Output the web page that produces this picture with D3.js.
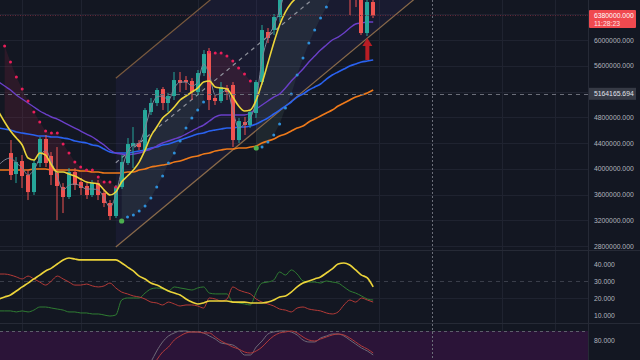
<!DOCTYPE html>
<html><head><meta charset="utf-8">
<script src="https://cdn.jsdelivr.net/npm/d3@7"></script>
<style>html,body{margin:0;padding:0;background:#131722;overflow:hidden}svg{display:block}</style>
</head><body>
<svg id="chart" width="640" height="360"></svg>
<script>
// ---------------- DATA ----------------
// candles, index 0..62
const opens = [4244,3918,4120,3903,3638,4089,4462,4198,3934,3716,3561,3949,3794,3732,3592,3778,3623,3468,3266,3716,4089,4353,4400,4291,4881,5021,5238,5021,5130,5378,5378,5363,5192,5487,5829,5099,5052,5254,5301,4446,4726,4679,4866,5347,6124,6155,6357,6776,7009,7165,7087,7320,7475,7398,7553,7475,7320,7398,7165,7087,6932,6108,6590].map(v=>v*1000);
const closes = [3903,4104,3887,3638,4089,4462,4089,3903,3732,3561,3949,3747,3701,3592,3778,3592,3468,3266,3716,4104,4384,4400,4337,4912,5021,5223,5021,5130,5378,5332,5347,5192,5487,5782,5068,5052,5270,5192,4446,4741,4679,4881,5347,6155,6031,6357,6776,7009,7165,7087,7320,7475,7398,7553,7475,7320,7398,7165,7087,7009,6108,6590,6380].map(v=>v*1000);
const highs = [4446,4182,4213,3980,4136,4493,4524,4260,4337,3778,4011,4011,3856,3778,3825,3825,3685,3514,3747,4213,4477,4648,4446,4943,5099,5254,5270,5176,5503,5503,5440,5409,5534,5844,5875,5145,5347,5301,5347,4788,4804,4912,5378,6233,6186,6404,6854,7087,7242,7242,7398,7553,7553,7631,7631,7553,7475,7475,7242,7165,7009,6668,6652].map(v=>v*1000);
const lows = [3825,3778,3701,3514,3592,4027,4027,3747,3204,3312,3530,3670,3592,3530,3561,3514,3405,3204,3235,3685,4058,4011,4291,4260,4835,4974,4912,4881,5068,5192,5223,5068,5145,5440,4912,4990,5021,5068,4337,4400,4524,4633,4788,5301,5953,6077,6279,6699,6932,6932,7009,7242,7320,7320,7398,7242,7242,7087,6388,6512,6077,6062,6341].map(v=>v*1000);

// moving averages, index -2..62
const lineStart = -2;
const maFast = [4881,4726,4586,4477,4369,4167,4136,4244,4213,4058,3949,3949,3918,3887,3840,3794,3778,3763,3670,3592,3638,3794,3887,3980,4104,4291,4508,4648,4788,4866,4959,5068,5130,5192,5254,5347,5363,5270,5254,5238,5114,4974,4897,4912,5068,5332,5642,5953,6233,6435,6574,6668,6776,6854,6932,7009,7087,7118,7165,7165,7118,7087,6963,6932,6901].map(v=>v*1000);
const maMid = [5347,5285,5223,5145,5083,5021,4959,4897,4850,4804,4772,4726,4679,4633,4586,4539,4493,4431,4369,4291,4244,4229,4213,4229,4244,4275,4306,4353,4400,4431,4462,4493,4539,4586,4633,4679,4741,4804,4835,4835,4835,4835,4835,4866,4928,4990,5052,5114,5161,5254,5363,5456,5549,5658,5751,5844,5922,6000,6046,6108,6186,6248,6264,6279,6279].map(v=>v*1000);
const maSlow = [4633,4617,4602,4571,4555,4539,4524,4508,4508,4493,4493,4477,4462,4431,4415,4400,4369,4353,4306,4260,4244,4244,4244,4260,4275,4291,4322,4337,4369,4384,4415,4446,4477,4508,4539,4555,4586,4602,4617,4633,4633,4648,4648,4664,4695,4741,4788,4850,4912,4974,5037,5114,5161,5223,5270,5316,5394,5456,5503,5549,5596,5627,5658,5673,5689].map(v=>v*1000);
const maLong = [3980,3980,3980,3980,3980,3980,3996,3996,3996,3980,3980,3980,3980,3980,3965,3965,3949,3949,3934,3934,3934,3934,3949,3949,3980,3996,4027,4042,4058,4073,4104,4120,4151,4182,4198,4229,4244,4275,4291,4306,4306,4322,4322,4337,4353,4400,4431,4462,4508,4539,4586,4633,4664,4726,4772,4819,4866,4912,4974,5021,5068,5114,5145,5176,5223].map(v=>v*1000);
const closeLine = [4058,4136,4167,4089,4011,3903,3980,4167,4291,4104,3871,3670,3747,3763,3732,3685,3685,3670,3545,3405,3592,3980,4260,4369,4400,4633,4943,5114,5130,5068,5254,5347,5347,5285,5347,5627,5456,5145,5176,5223,4912,4633,4695,4788,5068,5689,6031,6217,6466,6776,7009,7087,7118,7211,7242,7320,7367,7320,7273,7087,7050,7000,6850,6780,6720].map(v=>v*1000);

// parabolic SAR, index -1..56 ; d = above price, u = below price, f = flip point
const sarStart = -1;
const sarValues = [5906,5658,5425,5238,5052,4881,4726,4586,4555,4555,4384,4244,4104,4027,3980,3980,3871,3794,3794,3716,3188,3250,3281,3343,3421,3545,3716,3887,4089,4244,4431,4633,4788,4912,5037,5813,5798,5798,5751,5673,5565,5471,5363,4322,4337,4415,4524,4695,4943,5161,5456,5720,5953,6155,6341,6512,6699,6854].map(v=>v*1000);
const sarSides = "ddddddddddddddddddddfuuuuuuuuuuuuuuddddddddfuuuuuuuuuuuuuu";

// regression channel (two anchor candles)
const channelIdx = [18, 69];
const channelUpper = [5405000, 9252000];
const channelLower = [2784000, 6632000];

// ADX / DMI, index -2..62
const adx = [19.4,20.6,21.8,24.1,26.5,28.8,31.2,33.5,35.9,37.6,40.0,42.4,43.5,42.9,42.4,42.4,42.4,42.4,42.4,42.4,42.4,40.6,38.2,35.9,32.9,31.2,28.8,27.6,25.9,24.1,22.9,21.8,19.4,17.6,16.5,17.1,18.2,18.2,18.2,18.2,17.6,17.6,17.6,17.1,17.1,17.1,17.6,18.8,20.6,21.2,23.5,26.5,28.8,30.0,31.2,32.4,34.7,37.1,40.0,40.6,39.4,36.5,33.5,31.8,26.5];
const diMinus = [34.1,34.1,33.5,32.4,31.2,32.9,31.2,29.4,27.6,30.0,32.9,31.2,29.4,27.6,27.6,28.2,27.1,26.5,27.1,28.8,25.9,23.5,22.4,21.2,20.6,19.4,17.6,17.1,15.9,17.6,16.5,15.3,15.9,15.9,15.3,14.1,20.0,19.4,18.2,19.4,26.5,24.7,23.5,22.4,19.4,17.6,16.5,15.3,13.5,12.9,11.8,14.1,14.7,13.5,12.9,12.4,11.2,10.6,11.8,15.9,18.8,17.6,20.0,18.8,17.6];
const diPlus = [12.4,12.4,12.4,11.8,12.4,11.8,12.9,14.7,14.7,14.1,13.5,12.9,11.8,11.8,11.2,11.2,10.6,10.6,10.0,9.4,10.0,18.8,20.0,20.0,20.0,22.9,25.3,25.9,25.3,24.1,26.5,25.9,25.3,24.7,25.9,26.5,22.9,22.4,22.4,22.4,17.6,17.1,16.5,15.9,23.5,28.8,29.4,30.6,35.3,33.5,36.5,34.1,30.0,29.4,29.4,28.8,30.0,29.4,28.8,26.5,24.1,22.9,21.2,19.4,18.8];

// Stoch, index 23..62
const stochStart = 23;
const stochK = [8.9,31.1,55.6,75.6,88.9,95.6,100,100,97.8,97.8,95.6,88.9,82.2,73.3,71.1,68.9,60.0,46.7,46.7,64.4,77.8,93.3,97.8,100,100,97.8,91.1,80,75.6,75.6,84.4,88.9,93.3,93.3,88.9,80,71.1,62.2,55.6,46.7];
const stochD = [0,13.3,35.6,53.3,64.4,80,88.9,95.6,97.8,97.8,95.6,95.6,86.7,77.8,71.1,64.4,60,53.3,51.1,55.6,64.4,77.8,88.9,95.6,97.8,100,95.6,86.7,80,77.8,82.2,86.7,91.1,93.3,91.1,84.4,75.6,66.7,60,51.1];

// axes / annotations
const priceGrid = [6400000,6000000,5600000,5200000,4800000,4400000,4000000,3600000,3200000,2800000];
const priceLabels = [6000000,5600000,4800000,4400000,4000000,3600000,3200000,2800000];
const adxLabels = [40,30,20,10];
const stochLabels = [80];
const timeGridIdx = [2,12,32,42,63,84,93];
const lastPrice = 6380000, lastTime = "11:28:23";
const crossIdx = 72, crossPrice = 5164165.694;
const arrowIdx = 61, arrowTip = 6031000, arrowTail = 5689000;

// ---------------- DRAW ----------------
const W = 640, H = 360, PW = 588;
const svg = d3.select("#chart");
const x = d3.scaleLinear().domain([0, 98]).range([10.5, 10.5 + 5.85 * 98]);
const y = d3.scaleLinear().domain([2800000, 6000000]).range([246, 40]);
const yA = d3.scaleLinear().domain([10, 40]).range([315, 264]);
const yS = d3.scaleLinear().domain([80, 100]).range([340, 331]);

svg.append("rect").attr("width", W).attr("height", H).attr("fill", "#131722");
const defs = svg.append("defs");
defs.append("clipPath").attr("id","cpP").append("rect").attr("x",0).attr("y",0).attr("width",PW).attr("height",250);
defs.append("clipPath").attr("id","cpA").append("rect").attr("x",0).attr("y",250).attr("width",PW).attr("height",73);
defs.append("clipPath").attr("id","cpS").append("rect").attr("x",0).attr("y",323).attr("width",PW).attr("height",37);

// grids
const grid = svg.append("g");
grid.selectAll(".hg").data(priceGrid).join("line")
  .attr("x1",0).attr("x2",PW).attr("y1",d=>Math.round(y(d))+0.5).attr("y2",d=>Math.round(y(d))+0.5)
  .attr("stroke","#1f2330").attr("stroke-width",1);
grid.selectAll(".vg").data(timeGridIdx).join("line")
  .attr("x1",d=>Math.round(x(d))+0.5).attr("x2",d=>Math.round(x(d))+0.5).attr("y1",0).attr("y2",H)
  .attr("stroke","#1f2330").attr("stroke-width",1);
grid.append("line").attr("x1",0).attr("x2",PW).attr("y1",Math.round(yA(20))+0.5).attr("y2",Math.round(yA(20))+0.5).attr("stroke","#1f2330");
grid.append("line").attr("x1",0).attr("x2",PW).attr("y1",Math.round(yA(30))+0.5).attr("y2",Math.round(yA(30))+0.5).attr("stroke","#3a3e4a").attr("stroke-dasharray","4,4");

// stoch pane background band
svg.append("rect").attr("x",0).attr("y",Math.round(yS(100))).attr("width",PW).attr("height",H-Math.round(yS(100))).attr("fill","#2b1438");

// pane separators
svg.append("line").attr("x1",0).attr("x2",W).attr("y1",250.5).attr("y2",250.5).attr("stroke","#262a36");
svg.append("line").attr("x1",0).attr("x2",W).attr("y1",323.5).attr("y2",323.5).attr("stroke","#262a36");
svg.append("line").attr("x1",0).attr("x2",PW).attr("y1",Math.round(yS(100))+0.5).attr("y2",Math.round(yS(100))+0.5).attr("stroke","#5d5f6b").attr("stroke-dasharray","3,3");
svg.append("line").attr("x1",PW+0.5).attr("x2",PW+0.5).attr("y1",0).attr("y2",H).attr("stroke","#262a36");

// ---------- price pane ----------
const P = svg.append("g").attr("clip-path","url(#cpP)");
const lineIdx = d3.range(lineStart, lineStart + maFast.length);
const at = (arr, start, i) => arr[i - start];

// channel fill
const chPoly = [[x(channelIdx[0]), y(channelUpper[0])],[x(channelIdx[1]), y(channelUpper[1])],[x(channelIdx[1]), y(channelLower[1])],[x(channelIdx[0]), y(channelLower[0])]];
P.append("path").attr("d", "M" + chPoly.join("L") + "Z").attr("fill","rgba(105,85,230,0.075)");

// SAR fills
const sarIdx = d3.range(sarStart, sarStart + sarValues.length);
const runs = [];
sarIdx.forEach((i,k)=>{
  const s = sarSides[k] === "d" ? "d" : "u";
  if (!runs.length || runs[runs.length-1].s !== s) runs.push({s, pts: []});
  runs[runs.length-1].pts.push({i, sar: sarValues[k], ma: at(maFast, lineStart, i)});
});
const sarArea = d3.area().x(d=>x(d.i)).y0(d=>y(d.sar)).y1(d=>y(d.ma));
runs.forEach(r=>{
  P.append("path").attr("d", sarArea(r.pts))
   .attr("fill", r.s==="d" ? "rgba(200,45,80,0.14)" : "rgba(110,150,130,0.13)");
});

// channel lines
const chLine = (a)=> P.append("line").attr("x1",x(channelIdx[0])).attr("y1",y(a[0])).attr("x2",x(channelIdx[1])).attr("y2",y(a[1]));
chLine(channelUpper).attr("stroke","#7a5a3e").attr("stroke-width",1.2);
chLine(channelLower).attr("stroke","#8a6a4a").attr("stroke-width",1.2);
chLine(channelUpper.map((v,k)=>(v+channelLower[k])/2)).attr("stroke","#8f929c").attr("stroke-width",1.2).attr("stroke-dasharray","4,4");

// moving averages
const ln = d3.line().x(d=>x(d[0])).y(d=>y(d[1])).curve(d3.curveMonotoneX);
const drawMA = (arr, color, w) => P.append("path").attr("d", ln(lineIdx.map(i=>[i, at(arr, lineStart, i)])))
  .attr("fill","none").attr("stroke",color).attr("stroke-width",w);
drawMA(maLong, "#ef7a1a", 1.6);
drawMA(maSlow, "#2a62f0", 1.6);
drawMA(maMid, "#6a3fc8", 1.4);

// candles
const cIdx = d3.range(0, opens.length);
const cg = P.append("g");
cIdx.forEach(i=>{
  const up = closes[i] >= opens[i];
  const col = up ? "#26a69a" : "#ef5350";
  const cx = Math.round(x(i));
  cg.append("rect").attr("x",cx-0.5).attr("width",1).attr("y",y(highs[i])).attr("height",Math.max(1,y(lows[i])-y(highs[i]))).attr("fill",col);
  const t = y(Math.max(opens[i],closes[i])), b = y(Math.min(opens[i],closes[i]));
  cg.append("rect").attr("x",cx-2).attr("width",4).attr("y",t).attr("height",Math.max(1,b-t)).attr("fill",col);
});

drawMA(closeLine, "#7d8596", 1);
drawMA(maFast, "#ecd43a", 1.6);

// SAR dots
sarIdx.forEach((i,k)=>{
  const s = sarSides[k];
  P.append("circle").attr("cx",x(i)).attr("cy",y(sarValues[k]))
   .attr("r", s==="f" ? 2.6 : 1.5)
   .attr("fill", s==="d" ? "#e91e5a" : (s==="f" ? "#4caf50" : "#2e8fd8"));
});

// arrow
{
  const ax = x(arrowIdx), t = y(arrowTip), b = y(arrowTail);
  P.append("path").attr("d",`M${ax},${t}L${ax+5},${t+8}L${ax+2},${t+8}L${ax+2},${b}L${ax-2},${b}L${ax-2},${t+8}L${ax-5},${t+8}Z`).attr("fill","#b81d24");
}

// last price line
svg.append("line").attr("x1",0).attr("x2",PW).attr("y1",y(lastPrice)).attr("y2",y(lastPrice))
  .attr("stroke","#6a2a3a").attr("stroke-width",1).attr("stroke-dasharray","1,1.5");

// ---------- ADX pane ----------
const A = svg.append("g").attr("clip-path","url(#cpA)");
const lnA = d3.line().x(d=>x(d[0])).y(d=>yA(d[1])).curve(d3.curveMonotoneX);
const drawA = (arr,color,w)=>A.append("path").attr("d", lnA(lineIdx.map(i=>[i, at(arr, lineStart, i)]))).attr("fill","none").attr("stroke",color).attr("stroke-width",w);
drawA(diPlus, "#2f7d32", 1);
drawA(diMinus, "#b53a37", 1);
drawA(adx, "#ecd43a", 1.6);

// ---------- Stoch pane ----------
const S = svg.append("g").attr("clip-path","url(#cpS)");
const sIdx = d3.range(stochStart, stochStart + stochK.length);
const lnS = d3.line().x(d=>x(d[0])).y(d=>yS(d[1])).curve(d3.curveMonotoneX);
S.append("path").attr("d", lnS(sIdx.map(i=>[i, at(stochK, stochStart, i)]))).attr("fill","none").attr("stroke","#6e6a78").attr("stroke-width",1);
S.append("path").attr("d", lnS(sIdx.map(i=>[i, at(stochD, stochStart, i)]))).attr("fill","none").attr("stroke","#b23a3a").attr("stroke-width",1);

// ---------- crosshair ----------
svg.append("line").attr("x1",Math.round(x(crossIdx))+0.5).attr("x2",Math.round(x(crossIdx))+0.5).attr("y1",0).attr("y2",H)
  .attr("stroke","#6b6e79").attr("stroke-dasharray","2,2");
svg.append("line").attr("x1",0).attr("x2",PW).attr("y1",Math.round(y(crossPrice))+0.5).attr("y2",Math.round(y(crossPrice))+0.5)
  .attr("stroke","#6b6e79").attr("stroke-dasharray","4,4");

// ---------- axes ----------
const font = "'Liberation Sans', Arial, sans-serif";
const styleAxis = g => { g.select(".domain").remove(); g.attr("font-size",6.8).attr("font-family",font); g.selectAll("text").attr("fill","#b2b5be"); };
svg.append("g").attr("transform",`translate(${PW},0)`)
  .call(d3.axisRight(y).tickValues(priceLabels).tickFormat(d3.format(".3f")).tickSize(0).tickPadding(6)).call(styleAxis);
svg.append("g").attr("transform",`translate(${PW},0)`)
  .call(d3.axisRight(yA).tickValues(adxLabels).tickFormat(d3.format(".3f")).tickSize(0).tickPadding(6)).call(styleAxis);
svg.append("g").attr("transform",`translate(${PW},0)`)
  .call(d3.axisRight(yS).tickValues(stochLabels).tickFormat(d3.format(".3f")).tickSize(0).tickPadding(6)).call(styleAxis);

// last price label
{
  const ly = y(lastPrice);
  svg.append("rect").attr("x",PW+1).attr("y",ly-5.5).attr("width",47).attr("height",18).attr("rx",1).attr("fill","#f0494f");
  svg.append("text").attr("x",PW+6).attr("y",ly).attr("dy","0.35em").attr("font-size",6.8).attr("font-family",font).attr("fill","#ffffff").text(d3.format(".3f")(lastPrice));
  svg.append("text").attr("x",PW+6).attr("y",ly+8.5).attr("dy","0.35em").attr("font-size",6.8).attr("font-family",font).attr("fill","#ffe5e6").text(lastTime);
}
// crosshair label
{
  const cy = y(crossPrice);
  svg.append("rect").attr("x",PW+1).attr("y",cy-6).attr("width",47).attr("height",12).attr("fill","#363a45");
  svg.append("text").attr("x",PW+6).attr("y",cy).attr("dy","0.35em").attr("font-size",6.8).attr("font-family",font).attr("fill","#e0e3eb").text(d3.format(".3f")(crossPrice));
}
</script>
</body></html>
